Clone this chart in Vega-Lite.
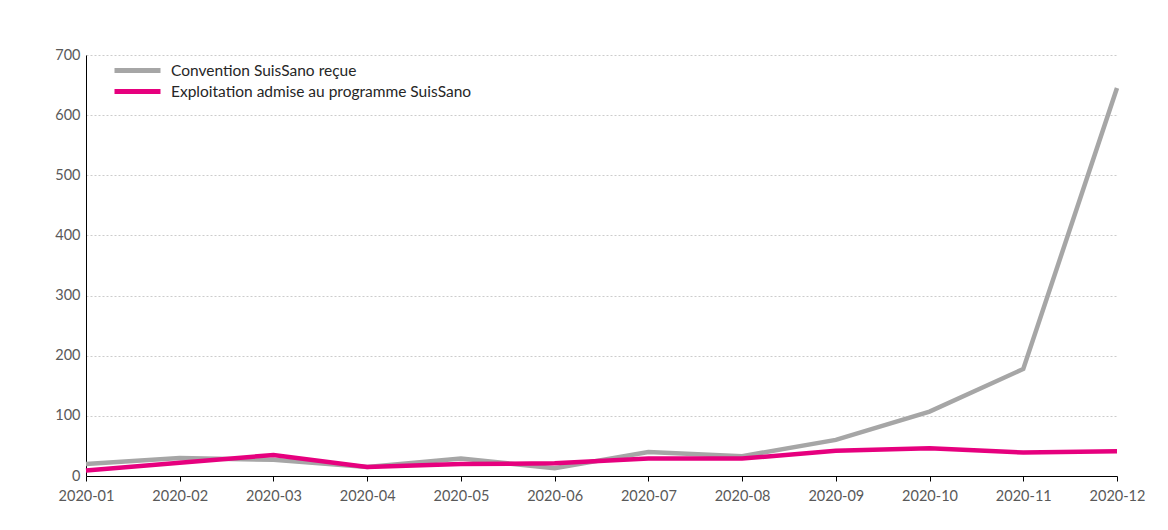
{
  "$schema": "https://vega.github.io/schema/vega-lite/v6.json",
  "autosize": {"type": "none"},
  "padding": {"left": 86, "top": 55, "right": 51, "bottom": 54},
  "width": 1031,
  "height": 421,
  "background": "white",
  "data": {
    "values": [
      {"month": "2020-01", "series": "Convention SuisSano reçue", "value": 20},
      {"month": "2020-02", "series": "Convention SuisSano reçue", "value": 30},
      {"month": "2020-03", "series": "Convention SuisSano reçue", "value": 27},
      {"month": "2020-04", "series": "Convention SuisSano reçue", "value": 15},
      {"month": "2020-05", "series": "Convention SuisSano reçue", "value": 29},
      {"month": "2020-06", "series": "Convention SuisSano reçue", "value": 13},
      {"month": "2020-07", "series": "Convention SuisSano reçue", "value": 40},
      {"month": "2020-08", "series": "Convention SuisSano reçue", "value": 33},
      {"month": "2020-09", "series": "Convention SuisSano reçue", "value": 60},
      {"month": "2020-10", "series": "Convention SuisSano reçue", "value": 107},
      {"month": "2020-11", "series": "Convention SuisSano reçue", "value": 178},
      {"month": "2020-12", "series": "Convention SuisSano reçue", "value": 645},
      {"month": "2020-01", "series": "Exploitation admise au programme SuisSano", "value": 9},
      {"month": "2020-02", "series": "Exploitation admise au programme SuisSano", "value": 22},
      {"month": "2020-03", "series": "Exploitation admise au programme SuisSano", "value": 35},
      {"month": "2020-04", "series": "Exploitation admise au programme SuisSano", "value": 15},
      {"month": "2020-05", "series": "Exploitation admise au programme SuisSano", "value": 20},
      {"month": "2020-06", "series": "Exploitation admise au programme SuisSano", "value": 21},
      {"month": "2020-07", "series": "Exploitation admise au programme SuisSano", "value": 29},
      {"month": "2020-08", "series": "Exploitation admise au programme SuisSano", "value": 29},
      {"month": "2020-09", "series": "Exploitation admise au programme SuisSano", "value": 42},
      {"month": "2020-10", "series": "Exploitation admise au programme SuisSano", "value": 46},
      {"month": "2020-11", "series": "Exploitation admise au programme SuisSano", "value": 39},
      {"month": "2020-12", "series": "Exploitation admise au programme SuisSano", "value": 41}
    ]
  },
  "mark": {"type": "line", "strokeWidth": 4.5, "strokeCap": "butt", "strokeJoin": "miter"},
  "encoding": {
    "x": {
      "field": "month",
      "type": "ordinal",
      "scale": {"type": "point", "padding": 0},
      "axis": {
        "title": null,
        "labelAngle": 0,
        "grid": false,
        "domainColor": "#000000",
        "tickColor": "#000000",
        "tickSize": 5,
        "labelPadding": 8,
        "labelFont": "Lato",
        "labelFontSize": 14.5,
        "labelColor": "#595959"
      }
    },
    "y": {
      "field": "value",
      "type": "quantitative",
      "scale": {"domain": [0, 700], "nice": false},
      "axis": {
        "title": null,
        "values": [0, 100, 200, 300, 400, 500, 600, 700],
        "ticks": false,
        "labelPadding": 6,
        "domainColor": "#000000",
        "gridColor": "#bfbfbf",
        "gridDash": [2, 2],
        "gridWidth": 0.8,
        "labelFont": "Lato",
        "labelFontSize": 14.5,
        "labelColor": "#595959"
      }
    },
    "color": {
      "field": "series",
      "type": "nominal",
      "scale": {
        "domain": ["Convention SuisSano reçue", "Exploitation admise au programme SuisSano"],
        "range": ["#a6a6a6", "#e6007e"]
      },
      "legend": {
        "title": null,
        "orient": "none",
        "legendX": 41,
        "legendY": 5,
        "symbolType": "M-2.875,0H2.875",
        "symbolSize": 256,
        "symbolStrokeWidth": 5,
        "rowPadding": -4,
        "labelFont": "Lato",
        "labelFontSize": 15.5,
        "labelColor": "#262626",
        "labelOffset": 23,
        "labelLimit": 500
      }
    }
  },
  "config": {
    "view": {"stroke": null}
  }
}
